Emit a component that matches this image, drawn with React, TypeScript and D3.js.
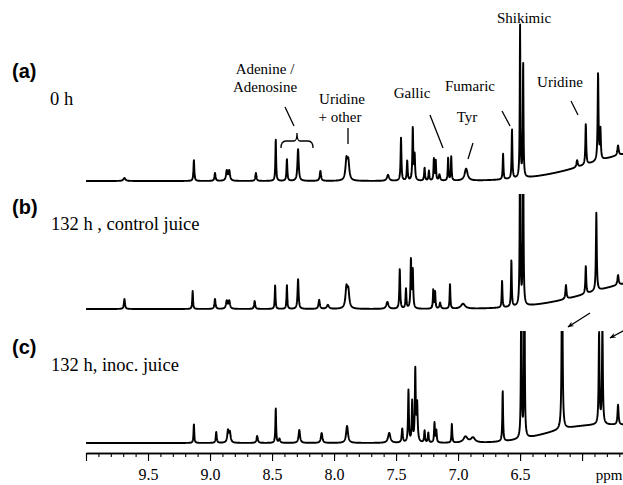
import React, { useRef, useEffect } from "react";
import * as d3 from "d3";

// [ppm, height, half width]
type Peak = [number, number, number];

const peaksA: Peak[] = [
  [9.69, 3, 0.01], [9.13, 21, 0.004], [8.96, 8, 0.005], [8.865, 10, 0.007], [8.845, 10, 0.007],
  [8.63, 8, 0.005], [8.47, 42, 0.0035], [8.38, 22, 0.004], [8.29, 32, 0.006], [8.11, 10, 0.006],
  [7.9, 20, 0.009], [7.885, 18, 0.009], [7.565, 6, 0.01], [7.46, 43, 0.004], [7.41, 20, 0.004],
  [7.365, 53, 0.004], [7.35, 25, 0.004], [7.27, 13, 0.004], [7.235, 10, 0.004], [7.195, 22, 0.0035],
  [7.18, 20, 0.0035], [7.15, 6, 0.006], [7.08, 23, 0.0035], [7.055, 24, 0.0035], [6.935, 12, 0.014],
  [6.637, 26, 0.0035], [6.565, 50, 0.0035], [6.5, 152, 0.003], [6.475, 116, 0.003], [6.04, 7, 0.006],
  [5.97, 41, 0.004], [5.871, 88, 0.004], [5.852, 30, 0.004], [5.71, 10, 0.006],
];
const humpsA: Peak[] = [[5.4, 31, 0.5]];

const peaksB: Peak[] = [
  [9.69, 10, 0.005], [9.14, 18, 0.0035], [8.96, 10, 0.005], [8.865, 8, 0.007], [8.845, 8, 0.007],
  [8.64, 8, 0.005], [8.475, 24, 0.0035], [8.38, 24, 0.0035], [8.29, 30, 0.005], [8.12, 9, 0.006],
  [8.05, 4, 0.01], [7.9, 20, 0.009], [7.885, 17, 0.009], [7.57, 7, 0.01], [7.47, 40, 0.004],
  [7.42, 20, 0.004], [7.38, 49, 0.004], [7.365, 38, 0.004], [7.2, 19, 0.0035], [7.185, 17, 0.0035],
  [7.145, 6, 0.006], [7.065, 25, 0.0035], [6.96, 5, 0.02], [6.645, 27, 0.0035], [6.57, 47, 0.0035],
  [6.5, 200, 0.003], [6.475, 190, 0.003], [6.13, 14, 0.005], [5.97, 28, 0.004], [5.885, 78, 0.004],
  [5.71, 10, 0.006],
];
const humpsB: Peak[] = [[5.4, 29, 0.5]];

const peaksC: Peak[] = [
  [9.13, 19, 0.0035], [8.95, 11, 0.0045], [8.855, 12, 0.007], [8.84, 10, 0.007], [8.62, 7, 0.006],
  [8.47, 35, 0.0035], [8.44, 4, 0.006], [8.28, 13, 0.007], [8.1, 10, 0.007], [7.895, 17, 0.009],
  [7.555, 10, 0.011], [7.45, 14, 0.005], [7.4, 52, 0.004], [7.37, 40, 0.004], [7.345, 72, 0.004],
  [7.33, 38, 0.005], [7.27, 12, 0.004], [7.24, 10, 0.004], [7.19, 20, 0.004], [7.175, 12, 0.004],
  [7.05, 19, 0.0035], [6.94, 6, 0.02], [6.88, 5, 0.02], [6.64, 51, 0.0035], [6.49, 200, 0.003],
  [6.465, 200, 0.003], [6.161, 200, 0.004], [5.863, 92, 0.004], [5.836, 100, 0.004], [5.71, 20, 0.005],
];
const humpsC: Peak[] = [[6.0, 15, 0.3], [5.4, 15, 0.3]];

const ppmLeft = 10.0;
const ppmRight = 5.67;
const majorTicks = [10.0, 9.5, 9.0, 8.5, 8.0, 7.5, 7.0, 6.5, 6.0];
const majorLabels = ["", "9.5", "9.0", "8.5", "8.0", "7.5", "7.0", "6.5", ""];
const minorTicks = d3.range(57, 101).map((d) => d / 10);

const W = 623;
const H = 485;

const x = d3.scaleLinear().domain([ppmLeft, ppmRight]).range([86, 623]);
const grid = d3.range(ppmRight - 0.01, ppmLeft + 0.0001, 0.0015);

function spectrum(peaks: Peak[], humps: Peak[]) {
  return grid.map((p) => {
    let v = 0;
    for (const [c, h, w] of peaks) v += (h * w * w) / ((p - c) * (p - c) + w * w);
    for (const [c, h, s] of humps) v += h * Math.exp(-((p - c) * (p - c)) / (2 * s * s));
    return [p, v] as [number, number];
  });
}

const traces = [
  { id: "a", peaks: peaksA, humps: humpsA, base: 181, clipTop: 0 },
  { id: "b", peaks: peaksB, humps: humpsB, base: 309, clipTop: 194 },
  { id: "c", peaks: peaksC, humps: humpsC, base: 443, clipTop: 331 },
];

const serif = "'Liberation Serif', 'Times New Roman', serif";
const sans = "'Liberation Sans', Arial, sans-serif";

const App = () => {
  const axisRef = useRef<SVGGElement>(null);

  useEffect(() => {
    const g = d3.select(axisRef.current);
    g.selectAll("*").remove();
    g.append("g").call(
      d3.axisBottom(x).tickValues(minorTicks).tickSize(4).tickSizeOuter(0).tickFormat(() => "")
    );
    const major = g.append("g").call(
      d3.axisBottom(x)
        .tickValues(majorTicks)
        .tickSize(8)
        .tickSizeOuter(0)
        .tickFormat((d, i) => majorLabels[i])
    );
    g.selectAll("path.domain").attr("stroke-width", 1.3);
    g.selectAll("line").attr("stroke-width", 1.1);
    major
      .selectAll("text")
      .attr("font-family", serif)
      .attr("font-size", 16)
      .attr("y", 27)
      .attr("dy", null)
      .attr("fill", "#000");
  }, []);

  return (
    <svg
      width={W}
      height={H}
      style={{ position: "absolute", left: 0, top: 0, background: "#fff" }}
    >
      <defs>
        {traces.map((t) => (
          <clipPath id={`clip-${t.id}`} key={t.id}>
            <rect x={0} y={t.clipTop} width={W} height={H - t.clipTop} />
          </clipPath>
        ))}
        <marker id="arr" viewBox="0 0 10 10" refX="9" refY="5" markerWidth="5" markerHeight="5" orient="auto">
          <path d="M0,1 L10,5 L0,9 L3,5 Z" fill="#000" />
        </marker>
      </defs>

      {traces.map((t) => {
        const y = d3.scaleLinear().domain([0, 100]).range([t.base, t.base - 100]);
        const line = d3
          .line<[number, number]>()
          .x((d) => x(d[0]))
          .y((d) => y(d[1]));
        return (
          <path
            key={t.id}
            d={line(spectrum(t.peaks, t.humps)) || ""}
            fill="none"
            stroke="#000"
            strokeWidth={1.9}
            strokeLinejoin="round"
            clipPath={`url(#clip-${t.id})`}
          />
        );
      })}

      <g ref={axisRef} transform="translate(0,453)" />
      <text x={609} y={480} fontFamily={serif} fontSize={15} textAnchor="middle">ppm</text>

      {/* panel labels */}
      <g fontFamily={sans} fontWeight="bold" fontSize={20}>
        <text x={12} y={78}>(a)</text>
        <text x={12} y={214}>(b)</text>
        <text x={12} y={354}>(c)</text>
      </g>
      <g fontFamily={serif} fontSize={18.5}>
        <text x={50} y={105}>0 h</text>
        <text x={51} y={230}>132 h , control juice</text>
        <text x={51} y={371}>132 h, inoc. juice</text>
      </g>

      {/* compound annotations */}
      <g fontFamily={serif} fontSize={15} textAnchor="middle">
        <text x={265} y={74}>Adenine /</text>
        <text x={265} y={92}>Adenosine</text>
        <text x={342} y={104}>Uridine</text>
        <text x={340} y={122}>+ other</text>
        <text x={412} y={98}>Gallic</text>
        <text x={470} y={91}>Fumaric</text>
        <text x={467} y={122}>Tyr</text>
        <text x={524} y={23}>Shikimic</text>
        <text x={560} y={87}>Uridine</text>
      </g>
      <g stroke="#000" strokeWidth={1.3} fill="none">
        <line x1={285} y1={107} x2={294} y2={126} />
        <path d="M281,148 Q281,141 286,141 L294,141 Q297,141 297,133 Q297,141 300,141 L308,141 Q313,141 313,148" />
        <line x1={348} y1={128} x2={348} y2={144} />
        <line x1={430} y1={115} x2={443} y2={148} />
        <line x1={502} y1={111} x2={510} y2={126} />
        <line x1={473} y1={143} x2={468} y2={159} />
        <line x1={571} y1={101} x2={578} y2={115} />
        <line x1={590} y1={313} x2={568} y2={327} markerEnd="url(#arr)" />
        <line x1={625} y1={330} x2={610} y2={338} markerEnd="url(#arr)" />
      </g>
    </svg>
  );
};

export default App;
